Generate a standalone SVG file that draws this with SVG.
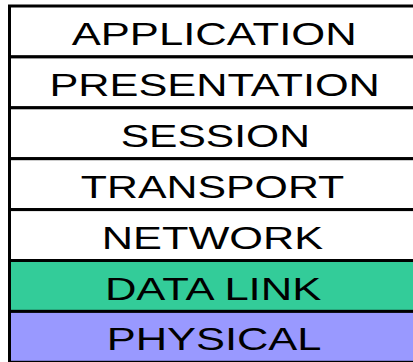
<svg xmlns="http://www.w3.org/2000/svg" width="413" height="362" viewBox="0 0 413 362">
  <style>
    .layer rect { stroke: #000; stroke-width: 3; }
    .layer text { font-family: "Liberation Sans", Arial, sans-serif; font-size: 32px; fill: #000; }
    .white { fill: #fff; }
    .green { fill: #33CC99; }
    .purple { fill: #9999FF; }
  </style>
  <rect x="0" y="0" width="413" height="362" fill="#fff"/>
  <g id="application" class="layer">
    <rect class="white" x="9.5" y="6" width="420" height="50.9"/>
    <text x="71.7" y="45" textLength="285" lengthAdjust="spacingAndGlyphs">APPLICATION</text>
  </g>
  <g id="presentation" class="layer">
    <rect class="white" x="9.5" y="56.9" width="420" height="50.9"/>
    <text x="49.4" y="95.9" textLength="330.5" lengthAdjust="spacingAndGlyphs">PRESENTATION</text>
  </g>
  <g id="session" class="layer">
    <rect class="white" x="9.5" y="107.8" width="420" height="50.9"/>
    <text x="120.7" y="146.8" textLength="189.2" lengthAdjust="spacingAndGlyphs">SESSION</text>
  </g>
  <g id="transport" class="layer">
    <rect class="white" x="9.5" y="158.7" width="420" height="50.9"/>
    <text x="80.8" y="197.7" textLength="263.5" lengthAdjust="spacingAndGlyphs">TRANSPORT</text>
  </g>
  <g id="network" class="layer">
    <rect class="white" x="9.5" y="209.6" width="420" height="50.9"/>
    <text x="101.8" y="248.6" textLength="221.3" lengthAdjust="spacingAndGlyphs">NETWORK</text>
  </g>
  <g id="data-link" class="layer">
    <rect class="green" x="9.5" y="260.5" width="420" height="50.9"/>
    <text x="104.9" y="299.5" textLength="216.4" lengthAdjust="spacingAndGlyphs">DATA LINK</text>
  </g>
  <g id="physical" class="layer">
    <rect class="purple" x="9.5" y="311.4" width="420" height="50.9"/>
    <text x="106.7" y="350.4" textLength="214.8" lengthAdjust="spacingAndGlyphs">PHYSICAL</text>
  </g>
</svg>
